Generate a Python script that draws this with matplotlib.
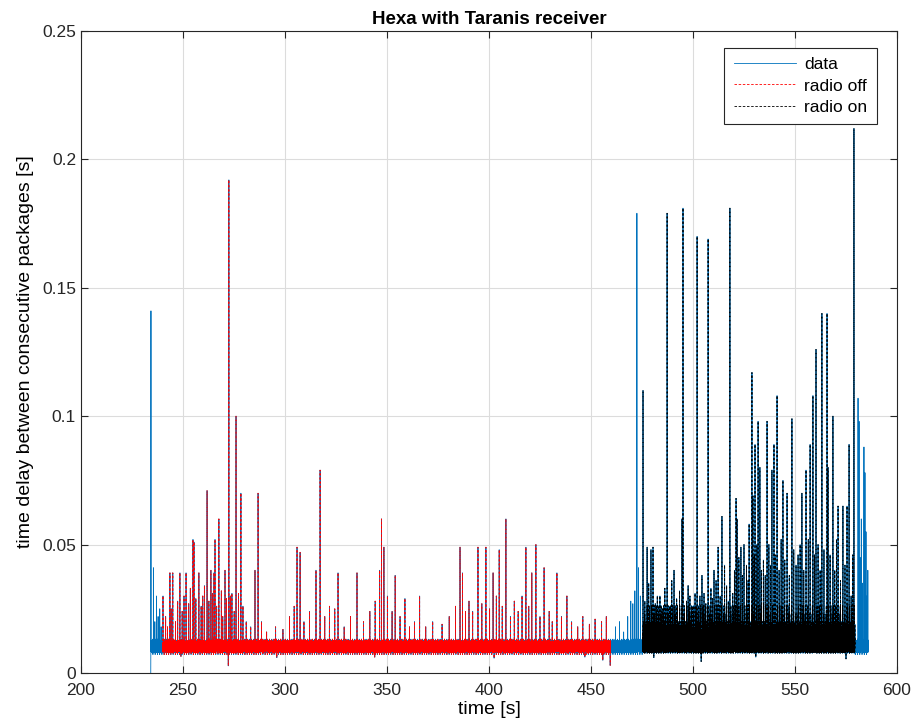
import numpy as np
import matplotlib
matplotlib.use('Agg')
import matplotlib.pyplot as plt

plt.rcParams['font.family'] = ['Liberation Sans', 'DejaVu Sans']

# segment limits [s]
t_start, t_end = 234.2, 586.0
off_start, off_end = 240.0, 459.6
on_start, on_end = 475.3, 579.4

jitter_off = [0.0102, 0.0095, 0.0110, 0.0088, 0.0104, 0.0121, 0.0092, 0.0099, 0.0115, 0.0083,
              0.0107, 0.0097, 0.0126, 0.0090, 0.0101, 0.0112, 0.0086, 0.0105, 0.0094, 0.0118,
              0.0079, 0.0103, 0.0109, 0.0091, 0.0123, 0.0096, 0.0100, 0.0085, 0.0114, 0.0098,
              0.0106, 0.0089, 0.0119, 0.0093, 0.0108, 0.0081, 0.0111, 0.0097, 0.0102, 0.0128,
              0.0087, 0.0104, 0.0095, 0.0116, 0.0090, 0.0100, 0.0124, 0.0084, 0.0107, 0.0099, 0.0113,
              0.0092, 0.0132, 0.0072, 0.0101]
jitter_on = [0.0098, 0.0125, 0.0088, 0.0142, 0.0102, 0.0079, 0.0160, 0.0093, 0.0118, 0.0085,
             0.0175, 0.0097, 0.0110, 0.0134, 0.0082, 0.0105, 0.0190, 0.0091, 0.0121, 0.0099,
             0.0147, 0.0086, 0.0112, 0.0168, 0.0094, 0.0103, 0.0130, 0.0080, 0.0115, 0.0200,
             0.0096, 0.0108, 0.0139, 0.0089, 0.0101, 0.0155, 0.0092, 0.0117, 0.0084, 0.0127,
             0.0106, 0.0183, 0.0090, 0.0113, 0.0097, 0.0150, 0.0087, 0.0109, 0.0122, 0.0095, 0.0136,
             0.0230, 0.0091, 0.0104, 0.0077, 0.0119, 0.0262]

# large spikes (time [s], delay [s])
spikes_data = [(234.3, 0.141), (235.5, 0.041), (236.2, 0.020), (237.0, 0.030), (237.8, 0.022),
               (238.6, 0.025), (239.3, 0.018), (462.0, 0.018), (464.0, 0.020), (466.0, 0.016),
               (468.0, 0.022), (469.5, 0.028), (470.5, 0.027), (471.5, 0.032), (472.5, 0.179),
               (473.3, 0.041), (474.2, 0.030), (580.9, 0.107), (581.4, 0.098), (581.9, 0.045),
               (582.5, 0.060), (583.1, 0.035), (583.8, 0.088), (584.3, 0.078), (584.8, 0.055),
               (585.3, 0.030), (585.7, 0.040)]
spikes_off = [(240.2, 0.030), (243.6, 0.039), (245.0, 0.039), (248.5, 0.039), (251.5, 0.039),
              (254.9, 0.052), (255.4, 0.051), (257.8, 0.039), (261.8, 0.071), (263.7, 0.040),
              (265.2, 0.039), (265.7, 0.052), (267.6, 0.060), (270.6, 0.040), (272.5, 0.192),
              (274.0, 0.031), (276.0, 0.100), (278.4, 0.070), (285.3, 0.040), (286.8, 0.070),
              (305.9, 0.049), (307.4, 0.047), (315.2, 0.040), (317.2, 0.079), (326.0, 0.039),
              (335.3, 0.039), (347.3, 0.060), (348.5, 0.049), (346.4, 0.040), (354.0, 0.038),
              (358.8, 0.029), (366.0, 0.030), (385.8, 0.049), (387.0, 0.039), (394.6, 0.049),
              (398.5, 0.049), (402.0, 0.039), (405.0, 0.048), (408.3, 0.060), (418.1, 0.049),
              (421.0, 0.039), (423.0, 0.050), (427.0, 0.041), (433.3, 0.039), (438.2, 0.030)]
spikes_on = [(475.5, 0.110), (477.5, 0.049), (479.4, 0.048), (480.4, 0.049), (483.8, 0.030),
             (487.3, 0.179), (490.7, 0.040), (494.6, 0.060), (495.1, 0.181), (498.5, 0.030),
             (502.0, 0.170), (503.4, 0.030), (505.4, 0.031), (507.4, 0.169), (510.3, 0.040),
             (512.3, 0.049), (514.2, 0.061), (518.1, 0.181), (521.1, 0.068), (521.6, 0.060),
             (523.5, 0.049), (525.0, 0.050), (527.5, 0.058), (528.9, 0.117), (529.4, 0.069),
             (530.4, 0.089), (531.9, 0.098), (532.8, 0.080), (536.3, 0.098), (538.7, 0.079),
             (539.7, 0.089), (541.2, 0.108), (544.1, 0.075), (546.1, 0.070), (548.5, 0.099),
             (553.4, 0.070), (555.4, 0.079), (557.4, 0.089), (558.8, 0.108), (560.3, 0.126),
             (563.2, 0.140), (565.7, 0.140), (566.2, 0.080), (568.6, 0.100), (571.1, 0.065),
             (573.5, 0.065), (575.5, 0.065), (576.5, 0.089), (578.9, 0.212)]

# small spikes on top of the baseline
small_off = [(241.5, 0.022), (242.4, 0.018), (244.2, 0.025), (246.3, 0.020), (247.4, 0.028),
             (249.6, 0.024), (250.5, 0.030), (252.8, 0.027), (253.6, 0.033), (256.3, 0.029),
             (258.9, 0.026), (259.7, 0.030), (260.5, 0.034), (262.7, 0.028), (264.4, 0.031),
             (266.5, 0.026), (268.8, 0.032), (269.5, 0.022), (271.3, 0.029), (273.2, 0.030),
             (275.1, 0.024), (277.2, 0.031), (279.4, 0.026), (281.0, 0.020), (283.2, 0.018),
             (288.5, 0.020), (291.0, 0.016), (295.4, 0.018), (299.0, 0.017), (302.2, 0.022),
             (304.5, 0.026), (309.3, 0.020), (312.0, 0.024), (319.5, 0.022), (321.8, 0.026),
             (324.4, 0.025), (329.0, 0.018), (332.1, 0.022), (338.5, 0.020), (341.6, 0.024),
             (344.2, 0.028), (350.2, 0.030), (352.5, 0.024), (356.4, 0.022), (361.0, 0.018),
             (363.5, 0.020), (369.0, 0.018), (372.4, 0.020), (377.0, 0.019), (380.5, 0.022),
             (383.6, 0.026), (388.5, 0.024), (390.2, 0.028), (392.0, 0.024), (396.5, 0.027),
             (400.3, 0.025), (403.6, 0.030), (406.5, 0.026), (410.5, 0.022), (412.4, 0.028),
             (414.3, 0.024), (416.2, 0.030), (419.5, 0.026), (425.0, 0.022), (429.5, 0.024),
             (431.0, 0.020), (435.5, 0.022), (440.5, 0.020), (443.5, 0.018), (446.0, 0.022),
             (449.2, 0.019), (452.0, 0.021), (455.2, 0.020), (457.5, 0.022)]
small_on = [(476.4, 0.028), (478.3, 0.035), (481.5, 0.027), (482.5, 0.030), (485.0, 0.025),
            (486.2, 0.033), (488.5, 0.026), (489.6, 0.036), (492.0, 0.029), (493.4, 0.032),
            (496.8, 0.028), (497.6, 0.034), (499.8, 0.026), (501.0, 0.031), (504.4, 0.038),
            (506.3, 0.027), (508.8, 0.033), (509.5, 0.029), (511.3, 0.036), (513.3, 0.030),
            (515.5, 0.042), (516.5, 0.034), (517.3, 0.028), (519.5, 0.031), (520.3, 0.040),
            (522.5, 0.045), (524.2, 0.038), (526.2, 0.042), (527.0, 0.036), (530.0, 0.046),
            (531.3, 0.050), (533.5, 0.040), (534.5, 0.044), (535.4, 0.038), (537.2, 0.050),
            (538.0, 0.042), (540.3, 0.046), (542.2, 0.040), (543.2, 0.052), (545.0, 0.044),
            (547.2, 0.038), (549.4, 0.048), (550.5, 0.042), (551.5, 0.046), (552.5, 0.050),
            (554.3, 0.040), (556.5, 0.052), (559.6, 0.046), (561.3, 0.050), (562.3, 0.040),
            (564.2, 0.048), (567.2, 0.046), (569.5, 0.040), (570.3, 0.052), (572.3, 0.036),
            (574.5, 0.042), (577.5, 0.030), (578.3, 0.046)]

# occasional short delays below the band
dips = [(249.0, 0.0065), (272.2, 0.0028), (296.0, 0.0060), (344.0, 0.0062), (402.5, 0.0058),
        (447.0, 0.0062), (455.8, 0.0050), (459.4, 0.0030), (480.8, 0.0060), (504.0, 0.0045),
        (530.8, 0.0062), (575.0, 0.0055)]

# build the series
t = np.arange(t_start, t_end, 0.02)
delay = np.resize(np.array(jitter_off), t.size).copy()
on_mask = (t >= on_start) & (t <= on_end)
delay[on_mask] = np.resize(np.array(jitter_on), on_mask.sum())
delay[0] = 0.0
for tt, v in spikes_data + spikes_off + spikes_on + small_off + small_on + dips:
    delay[np.argmin(np.abs(t - tt))] = v

off_mask = (t >= off_start) & (t <= off_end)

fig = plt.figure(figsize=(9.14, 7.28), dpi=100)
ax = fig.add_axes([0.0886, 0.0755, 0.8928, 0.882])

ax.plot(t, delay, color='#0072BD', lw=0.6, label='data')
ax.plot(t[off_mask], delay[off_mask], color='red', lw=0.6, ls=(0, (3, 2)), label='radio off')
ax.plot(t[on_mask], delay[on_mask], color='black', lw=0.6, ls=(0, (3, 2)), label='radio on')

ax.set_xlim(200, 600)
ax.set_ylim(0, 0.25)
ax.set_xticks(np.arange(200, 601, 50))
ax.set_yticks([0, 0.05, 0.1, 0.15, 0.2, 0.25])
ax.set_yticklabels(['0', '0.05', '0.1', '0.15', '0.2', '0.25'])
ax.grid(True, color='#dcdcdc', lw=0.8)
ax.set_axisbelow(True)
ax.tick_params(direction='in', labelsize=12.5, length=5, top=True, right=True, colors='#262626')
ax.tick_params(axis='x', pad=7)
for s in ax.spines.values():
    s.set_linewidth(0.8)
    s.set_color('#262626')

ax.set_xlabel('time [s]', fontsize=14, labelpad=2)
ax.set_ylabel('time delay between consecutive packages [s]', fontsize=14, labelpad=6)
ax.set_title('Hexa with Taranis receiver', fontsize=13.5, fontweight='bold', pad=5)

leg = ax.legend(loc='upper right', bbox_to_anchor=(0.975, 0.974), borderaxespad=0,
                fontsize=12.5, fancybox=False, framealpha=1, edgecolor='#262626',
                handlelength=3.6, borderpad=0.55, labelspacing=0.35, handletextpad=0.45)
leg.get_frame().set_linewidth(0.8)

plt.savefig('out.png', dpi=100)
